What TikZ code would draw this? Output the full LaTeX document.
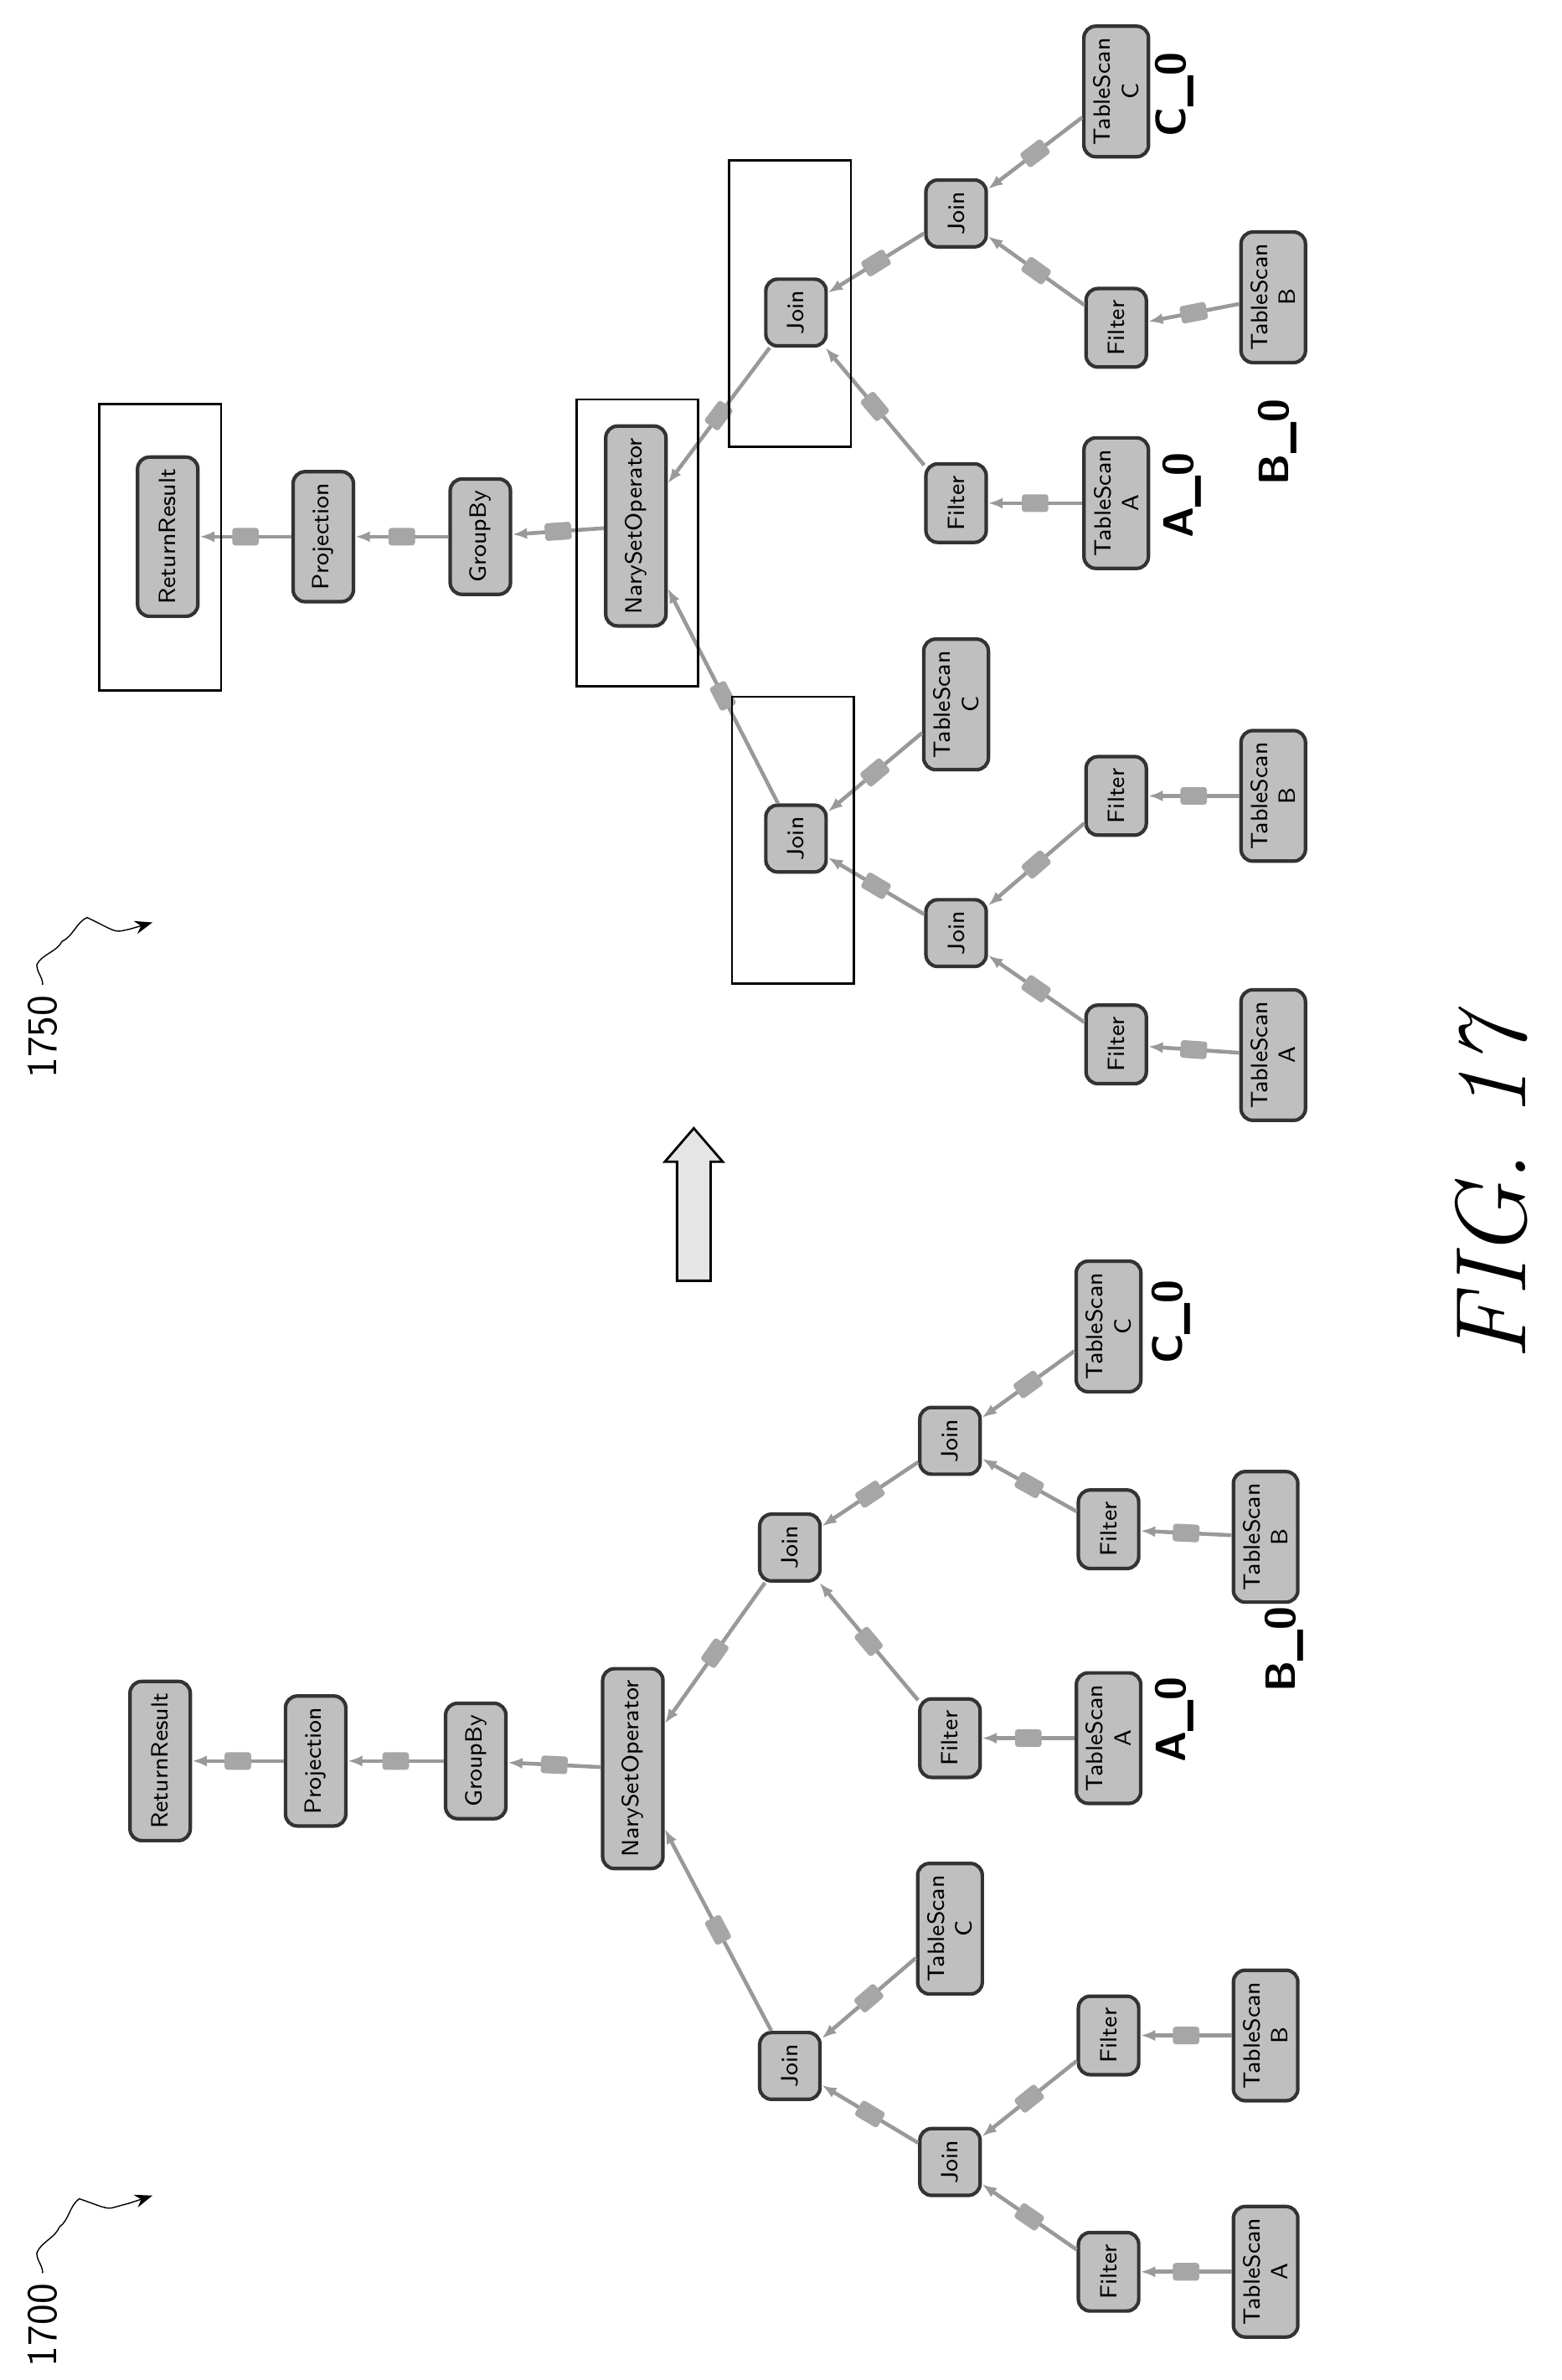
\documentclass[tikz,border=0pt]{standalone}
\usepackage{tikz}
\usetikzlibrary{arrows.meta}
\usetikzlibrary{calc}
\usetikzlibrary{decorations.pathmorphing}

\begin{document}
\begin{tikzpicture}[x=0.0182cm, y=-0.0182cm,
    op/.style={rotate=90, rectangle, rounded corners=4pt, draw=black!80, line width=1.2pt, fill=black!25, font=\sffamily\footnotesize, minimum height=0.72cm, inner xsep=4pt, align=center},
    lbl/.style={rotate=90, font=\sffamily\bfseries\Large},
    edge/.style={draw=black!40, line width=1.3pt, -{Latex[length=5pt]}},
    port/.style={rectangle, rounded corners=1pt, fill=black!35, inner sep=0pt, minimum width=9pt, minimum height=6pt},
    frame/.style={draw=black, line width=0.8pt}
]
    \useasboundingbox (0,0) rectangle (1024,1561);

    % left tree
    \node[op] (LR) at (105,1155) {ReturnResult};
    \node[op] (LP) at (207,1155) {Projection};
    \node[op] (LG) at (312,1155) {GroupBy};
    \node[op] (LN) at (415,1160) {NarySetOperator};
    \node[op] (LJ1) at (518,1015) {Join};
    \node[op] (LJ2) at (623,945) {Join};
    \node[op] (LF1) at (623,1140) {Filter};
    \node[op] (LTC1) at (727,870) {TableScan\\C};
    \node[op] (LF2) at (727,1003) {Filter};
    \node[op] (LTA1) at (727,1140) {TableScan\\A};
    \node[op] (LTB1) at (830,1008) {TableScan\\B};
    \node[lbl] (LA0) at (770,1128) {A\_0};
    \node[lbl] (LB0) at (842,1082) {B\_0};
    \node[lbl] (LC0) at (768,867) {C\_0};
    \node[op] (LJ3) at (518,1355) {Join};
    \node[op] (LTC2) at (623,1265) {TableScan\\C};
    \node[op] (LJ4) at (623,1418) {Join};
    \node[op] (LF3) at (727,1335) {Filter};
    \node[op] (LTB2) at (830,1335) {TableScan\\B};
    \node[op] (LF4) at (727,1490) {Filter};
    \node[op] (LTA2) at (830,1490) {TableScan\\A};

    % right tree
    \node[op] (RR) at (110,352) {ReturnResult};
    \node[op] (RP) at (212,352) {Projection};
    \node[op] (RG) at (315,352) {GroupBy};
    \node[op] (RN) at (417,345) {NarySetOperator};
    \node[op] (RJ1) at (522,205) {Join};
    \node[op] (RJ2) at (627,140) {Join};
    \node[op] (RF1) at (627,330) {Filter};
    \node[op] (RTC1) at (732,60) {TableScan\\C};
    \node[op] (RF2) at (732,215) {Filter};
    \node[op] (RTA1) at (732,330) {TableScan\\A};
    \node[op] (RTB1) at (835,195) {TableScan\\B};
    \node[lbl] (RA0) at (775,325) {A\_0};
    \node[lbl] (RB0) at (838,290) {B\_0};
    \node[lbl] (RC0) at (770,62) {C\_0};
    \node[op] (RJ3) at (522,550) {Join};
    \node[op] (RTC2) at (627,462) {TableScan\\C};
    \node[op] (RJ4) at (627,612) {Join};
    \node[op] (RF3) at (732,522) {Filter};
    \node[op] (RTB2) at (835,522) {TableScan\\B};
    \node[op] (RF4) at (732,685) {Filter};
    \node[op] (RTA2) at (835,692) {TableScan\\A};

    % connectors, child to parent
    \foreach \c/\p in {LP/LR, LG/LP, LN/LG, LJ1/LN, LJ3/LN, LJ2/LJ1, LF1/LJ1, LTC1/LJ2, LF2/LJ2,
                      LTA1/LF1, LTB1/LF2, LTC2/LJ3, LJ4/LJ3, LF3/LJ4, LF4/LJ4, LTB2/LF3, LTA2/LF4,
                      RP/RR, RG/RP, RN/RG, RJ1/RN, RJ3/RN, RJ2/RJ1, RF1/RJ1, RTC1/RJ2, RF2/RJ2,
                      RTA1/RF1, RTB1/RF2, RTC2/RJ3, RJ4/RJ3, RF3/RJ4, RF4/RJ4, RTB2/RF3, RTA2/RF4}
        \draw[edge] (\c) -- node[port, sloped] {} (\p);

    % frames
    \draw[frame] (65,265) rectangle (145,453);
    \draw[frame] (378,262) rectangle (458,450);
    \draw[frame] (478,105) rectangle (558,293);
    \draw[frame] (480,457) rectangle (560,645);

    % transition arrow
    \draw[line width=0.8pt, fill=black!10] (444,840) -- (444,762) -- (436,762) -- (455,740) -- (474,762) -- (466,762) -- (466,840) -- cycle;

    % reference numerals
    \node[rotate=90, font=\sffamily\Large] (N1700) at (28,1525) {1700};
    \coordinate (T1700) at (100,1440);
    \draw[-{Stealth[length=6pt]}, decorate, decoration={snake, amplitude=2pt, segment length=22pt, post length=8pt}] (N1700.east) to[out=90, in=200] (T1700);
    \node[rotate=90, font=\sffamily\Large] (N1750) at (28,680) {1750};
    \coordinate (T1750) at (100,605);
    \draw[-{Stealth[length=6pt]}, decorate, decoration={snake, amplitude=2pt, segment length=22pt, post length=8pt}] (N1750.east) to[out=90, in=200] (T1750);

    \node[rotate=90, font=\itshape\fontsize{34}{40}\selectfont] (FIG) at (978,780) {FIG. 17};
\end{tikzpicture}
\end{document}
